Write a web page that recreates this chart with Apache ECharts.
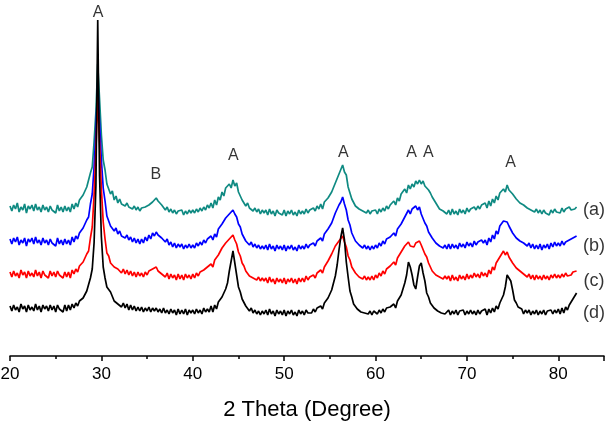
<!DOCTYPE html>
<html>
<head>
<meta charset="utf-8">
<script src="https://cdn.jsdelivr.net/npm/echarts@6/dist/echarts.min.js"></script>
<style>
  html, body { margin: 0; padding: 0; background: #fff; }
  #container { width: 608px; height: 428px; }
</style>
</head>
<body>
<div id="container"></div>
<script>
// 2 theta grid, 20.0 .. 82.0 in steps of 0.2 degree
const twoTheta = Array.from({ length: 311 }, (_, i) => +(20 + i * 0.2).toFixed(1));

// intensities (offset stacked, arbitrary units), 10 points = 2 degrees per line
const seriesA = [
  150,145,151,147,153,144,149,146,152,143,
  150,147,151,145,152,146,149,144,151,146,
  149,144,150,146,148,143,151,145,149,144,
  150,145,149,144,152,147,153,149,156,154,
  161,159,169,170,183,189,214,244,292,257,
  221,196,186,172,171,162,165,156,160,153,
  157,152,154,150,153,149,151,147,150,146,
  149,145,148,146,149,147,151,149,154,152,
  158,155,156,151,150,146,149,144,147,143,
  146,142,145,143,146,141,145,142,146,143,
  146,143,147,144,148,145,149,146,151,148,
  153,148,156,151,159,156,164,160,168,166,
  172,168,176,170,173,164,165,156,158,150,
  153,148,150,145,148,144,147,142,146,143,
  146,141,147,142,145,140,146,143,145,141,
  146,140,145,142,146,141,144,140,146,142,
  145,142,147,143,146,144,148,145,150,147,
  152,147,154,152,158,156,164,164,173,174,
  182,183,191,184,181,169,167,157,158,150,
  152,147,149,145,147,143,146,142,145,143,
  146,142,147,144,148,145,150,147,151,150,
  155,151,158,155,162,161,167,163,171,167,
  172,169,175,172,176,172,175,170,172,166,
  163,159,156,153,151,147,148,145,146,142,
  146,141,147,142,145,141,147,143,146,142,
  148,144,147,145,149,146,150,147,151,149,
  153,148,155,150,157,153,160,156,163,161,
  167,164,171,166,168,162,163,157,159,153,
  155,151,153,148,150,146,148,144,147,143,
  146,142,146,143,145,141,146,143,147,144,
  146,143,148,144,147,145,149,146,148,147,
  149
];
const seriesB = [
  117,112,118,114,119,111,116,113,118,110,
  117,114,118,112,119,113,116,111,118,113,
  116,111,117,113,115,110,118,112,116,111,
  117,112,116,111,119,114,120,117,123,122,
  128,129,136,139,152,162,189,225,273,233,
  196,168,155,140,139,130,132,125,128,122,
  125,120,122,118,121,116,119,114,118,113,
  117,112,117,113,119,115,121,117,123,120,
  124,121,123,118,119,114,117,111,114,109,
  113,108,112,109,112,107,111,108,112,108,
  111,108,113,110,114,111,116,113,117,115,
  120,116,122,119,127,125,132,130,138,136,
  142,140,146,142,139,132,129,122,121,115,
  116,111,114,109,112,108,111,107,110,107,
  111,106,112,107,110,105,111,107,110,106,
  111,105,110,107,111,106,109,105,111,107,
  110,107,112,108,111,109,113,110,115,113,
  118,115,122,120,127,127,133,134,143,145,
  151,154,159,152,146,136,131,123,121,115,
  116,111,112,108,111,107,110,106,110,107,
  111,108,113,110,115,112,117,115,119,118,
  123,120,127,126,132,133,139,139,146,142,
  147,145,150,146,149,142,140,133,130,124,
  122,118,117,113,114,110,112,108,111,107,
  112,107,112,108,111,107,113,109,112,108,
  114,110,113,109,115,111,114,112,116,113,
  116,111,118,114,121,117,125,122,130,129,
  135,136,134,130,129,123,123,118,119,115,
  117,113,115,110,113,108,112,107,111,107,
  112,106,111,108,112,107,113,109,114,110,
  113,110,115,111,114,113,116,115,118,117,
  120
];
const seriesC = [
  84,79,85,80,83,78,86,81,84,78,
  85,80,83,79,86,80,84,78,85,81,
  83,78,85,80,84,79,85,81,83,78,
  84,79,84,78,86,82,87,84,90,88,
  94,95,102,105,118,129,161,205,259,213,
  167,134,117,103,100,93,94,89,91,87,
  88,83,87,82,86,81,85,80,84,79,
  84,80,83,79,84,81,85,83,87,85,
  89,85,87,82,84,79,83,77,82,78,
  81,76,82,77,81,76,82,78,81,77,
  82,78,83,80,84,82,86,84,89,87,
  92,89,96,94,101,101,108,106,113,112,
  117,115,121,116,112,104,100,93,90,85,
  85,80,82,78,80,76,79,75,78,75,
  78,73,79,74,77,72,78,74,77,73,
  78,72,77,74,78,73,77,72,78,74,
  78,74,80,76,79,77,81,78,83,81,
  86,83,89,88,95,96,102,102,110,110,
  115,116,120,114,109,100,96,89,88,83,
  83,79,81,77,80,76,79,76,80,76,
  81,78,83,80,85,82,87,85,90,89,
  94,91,98,98,104,104,110,109,114,110,
  112,109,113,111,115,111,109,102,99,93,
  91,85,87,81,83,79,81,77,80,77,
  80,75,81,76,79,75,81,77,80,76,
  82,77,81,78,83,79,82,78,84,80,
  83,79,86,82,89,86,93,91,99,98,
  105,101,104,99,99,93,94,88,89,85,
  87,82,84,79,82,77,81,76,81,77,
  80,76,81,77,80,76,81,78,82,78,
  81,78,82,79,83,80,82,81,84,83,
  85
];
const seriesD = [
  50,45,51,46,49,44,52,47,50,44,
  51,46,49,45,52,46,50,44,51,47,
  50,45,51,46,50,44,51,47,49,44,
  51,45,51,46,52,48,53,50,55,53,
  58,59,65,67,78,87,113,170,336,180,
  119,89,78,69,67,64,62,55,56,52,
  54,49,53,48,52,46,51,46,50,45,
  49,45,49,44,48,45,49,44,48,45,
  48,44,47,43,48,43,46,42,47,43,
  46,41,47,42,46,42,47,41,46,43,
  46,42,47,43,46,42,48,44,47,44,
  50,44,51,47,54,53,59,59,67,73,
  85,95,105,93,81,69,64,57,55,50,
  50,45,48,43,46,42,45,41,45,42,
  46,41,47,42,45,40,46,42,45,41,
  46,40,45,42,46,41,44,40,46,42,
  45,41,46,43,45,43,47,44,48,46,
  50,47,53,52,58,58,66,68,80,91,
  106,119,128,116,94,79,65,59,52,51,
  47,47,44,46,43,45,42,45,41,45,
  46,42,46,43,47,44,48,46,49,48,
  52,48,55,54,61,63,73,81,94,89,
  81,71,67,79,90,93,83,75,63,59,
  53,51,48,47,45,44,43,45,42,44,
  46,41,45,42,46,41,45,43,46,41,
  45,42,46,42,45,41,46,42,45,43,
  47,41,47,43,48,44,50,47,53,52,
  61,69,81,83,75,66,56,53,49,48,
  47,42,46,43,46,41,45,42,46,41,
  45,42,46,41,45,43,46,42,46,43,
  47,42,48,43,49,46,51,50,57,58,
  63
];

const seriesNames = ['(a)', '(b)', '(c)', '(d)'];
const seriesColors = ['#0f8a82', '#0000ff', '#ff0000', '#000000'];
const seriesLabelY = [146, 110, 75, 43];

// peak markers
const peakNames = ['A', 'B', 'A', 'A', 'A', 'A', 'A'];
const peakPos = [29.65, 35.97, 44.43, 56.47, 63.95, 65.77, 74.78];
const peakLabelY = [343, 181, 200, 203, 203, 203, 193];

const myChart = echarts.init(document.getElementById('container'));

const curves = [seriesA, seriesB, seriesC, seriesD].map((vals, k) => ({
    name: seriesNames[k],
    type: 'line',
    showSymbol: false,
    symbol: 'none',
    data: twoTheta.map((x, i) => [x, vals[i]]),
    lineStyle: { color: seriesColors[k], width: 1.7 },
    z: 2 + k,
}));

const textStyle = {
    show: true,
    position: 'inside',
    color: '#000',
    fontFamily: 'Liberation Sans, Arial, sans-serif',
};

const option = {
    animation: false,
    grid: { left: 10, right: 4, top: 0, bottom: 72, outerBoundsMode: 'none' },
    xAxis: {
        type: 'value',
        min: 20,
        max: 85,
        interval: 10,
        name: '2 Theta (Degree)',
        nameLocation: 'middle',
        nameGap: 43,
        nameTextStyle: { fontSize: 22, color: '#000', fontFamily: 'Liberation Sans, Arial, sans-serif' },
        axisLine: { lineStyle: { color: '#000', width: 1.5 } },
        axisTick: { length: 5, lineStyle: { color: '#000', width: 1.5 } },
        minorTick: { show: true, splitNumber: 2, length: 3, lineStyle: { color: '#000', width: 1.5 } },
        axisLabel: { fontSize: 17, color: '#000', margin: 10, showMaxLabel: false, fontFamily: 'Liberation Sans, Arial, sans-serif' },
        splitLine: { show: false },
    },
    yAxis: { type: 'value', min: 0, max: 356, show: false },
    series: [
        ...curves,
        {
            type: 'scatter',
            symbolSize: 1,
            itemStyle: { color: 'transparent' },
            data: peakPos.map((x, i) => [x, peakLabelY[i], peakNames[i]]),
            label: { ...textStyle, fontSize: 16, formatter: p => p.data[2] },
            z: 10,
        },
        {
            type: 'scatter',
            symbolSize: 1,
            itemStyle: { color: 'transparent' },
            data: seriesNames.map((n, i) => [83.9, seriesLabelY[i], n]),
            label: { ...textStyle, fontSize: 18, formatter: p => p.data[2] },
            z: 10,
        },
    ],
};
myChart.setOption(option);
window.addEventListener('resize', () => {
    myChart.resize()
})
</script>
</body>
</html>
